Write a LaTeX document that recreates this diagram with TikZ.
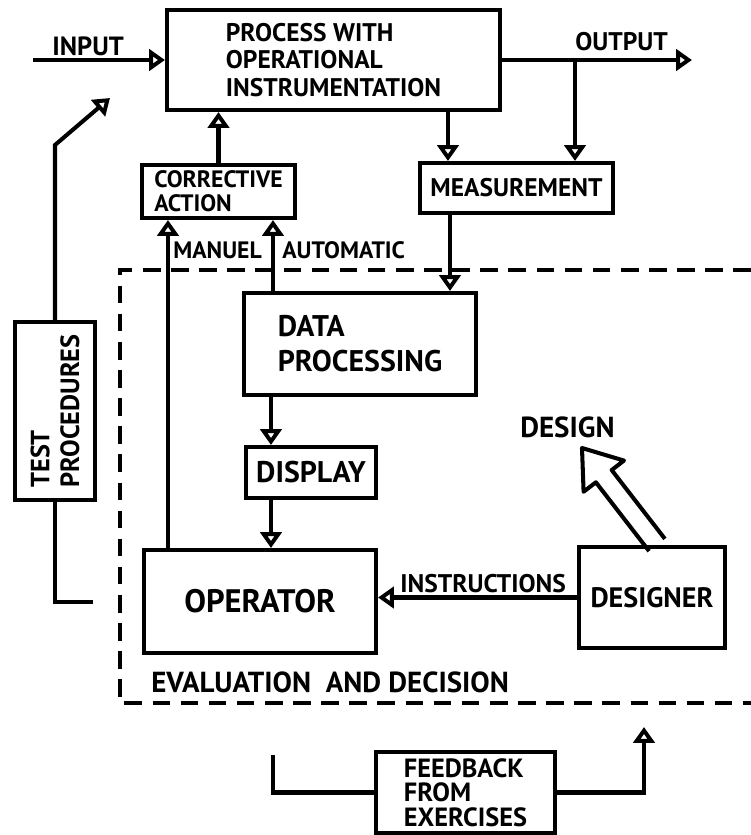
\documentclass[tikz,border=0pt]{standalone}
\usepackage{fontspec}
\setmainfont{PT Sans}
\usetikzlibrary{arrows.meta, positioning, calc}

\tikzset{
    % Lettering and boxes
    lettering/.style={font=\fontsize{14.5}{15.5}\selectfont\bfseries},
    bigletter/.style={font=\fontsize{17}{18}\selectfont\bfseries},
    smallletter/.style={font=\fontsize{13.5}{13.5}\selectfont\bfseries},
    blockbox/.style={
        rectangle,
        draw,
        line width=2.3pt,
        inner sep=0pt,
        text centered,
        lettering
    },
    tag/.style={inner sep=0pt, lettering},
    % Connectors
    flow/.style={
        -{Triangle[open,length=9pt,width=12pt]},
        line width=2.3pt
    },
    wire/.style={line width=2.3pt},
    zone/.style={line width=2.3pt, dash pattern=on 10pt off 6pt}
}

\begin{document}
\begin{tikzpicture}
    \useasboundingbox (0,0) rectangle (15.02,-16.7);

    % Plant and its instrumentation
    \node[blockbox,minimum width=6.66cm,minimum height=2cm,align=left] (proc) at (6.67,-1.2) {PROCESS WITH\\OPERATIONAL\\INSTRUMENTATION};
    \node[blockbox,smallletter,minimum width=3.06cm,minimum height=1.06cm,align=left] (corr) at (4.37,-3.83) {CORRECTIVE\\ACTION};
    \node[blockbox,minimum width=3.86cm,minimum height=1cm] (meas) at (10.33,-3.76) {MEASUREMENT};

    % Evaluation and decision
    \node[blockbox,minimum width=4.64cm,minimum height=2.04cm,align=left,font=\fontsize{17}{20}\selectfont\bfseries] (dp) at (7.2,-6.88) {DATA\\PROCESSING};
    \node[blockbox,bigletter,minimum width=2.6cm,minimum height=1.02cm] (disp) at (6.22,-9.45) {DISPLAY};
    \node[blockbox,font=\fontsize{18.5}{19}\selectfont\bfseries,minimum width=4.64cm,minimum height=2.06cm] (oper) at (5.2,-12.03) {OPERATOR};
    \node[blockbox,font=\fontsize{16}{17}\selectfont\bfseries,minimum width=2.92cm,minimum height=2.02cm] (desgr) at (13.04,-11.95) {DESIGNER};

    % rotated box, so east is its top and west its bottom
    \node[blockbox,rotate=90,minimum width=3.56cm,minimum height=1.6cm,align=left,font=\fontsize{15}{17}\selectfont\bfseries] (tp) at (1.1,-8.22) {TEST\\PROCEDURES};
    \node[blockbox,minimum width=3.58cm,minimum height=1.62cm,align=left,font=\fontsize{15}{14}\selectfont\bfseries] (fb) at (9.31,-15.85) {FEEDBACK\\FROM\\EXERCISES};

    % Labels
    \node[tag,font=\fontsize{15}{16}\selectfont\bfseries,anchor=base west] (inlbl) at (1.04,-1.1) {INPUT};
    \node[tag,anchor=base west] (outlbl) at (11.5,-1.0) {OUTPUT};
    \node[tag,smallletter,anchor=base west] (manlbl) at (3.46,-5.16) {MANUEL};
    \node[tag,smallletter,anchor=base west] (autolbl) at (5.64,-5.16) {AUTOMATIC};
    \node[tag,anchor=base west] (instlbl) at (8.0,-11.84) {INSTRUCTIONS};
    \node[tag,font=\fontsize{16.5}{17}\selectfont\bfseries,anchor=base west] (dsglbl) at (10.4,-8.74) {DESIGN};
    \node[tag,font=\fontsize{16.5}{17}\selectfont\bfseries,anchor=base west] (evallbl) at (3.02,-13.84) {EVALUATION\ \ AND DECISION};

    % Dashed zone, open to the right
    \draw[zone] (15.02,-5.4) -- (2.4,-5.4) -- (2.4,-14.06) -- (15.02,-14.06);

    % Free ends and branch points
    \coordinate (in) at (0.66,-1.2);
    \coordinate (out) at (13.84,-1.2);
    \coordinate (tap) at (11.5,-1.2);
    \coordinate (mtap) at ([xshift=0.6cm]meas.north west);
    \coordinate (dtap) at ([xshift=0.64cm]meas.south west);
    \coordinate (auto) at ([xshift=0.62cm]dp.north west);
    \coordinate (man) at ([xshift=0.52cm]oper.north west);
    \coordinate (dsp) at ([xshift=0.58cm]dp.south west);
    \coordinate (tpk) at (1.1,-2.9);
    \coordinate (tptip) at (2.2,-1.96);
    \coordinate (tpend) at (1.86,-12.04);
    \coordinate (fbl) at (5.46,-15.1);
    \coordinate (fbr) at (12.88,-14.54);

    % Arrows
    \draw[flow] (in) -- (proc.west);
    \draw[flow] (proc.east) -- (out);
    \draw[flow] (tap) -- (tap |- meas.north);
    \draw[flow] (mtap |- proc.south) -- (mtap);
    \draw[flow] (corr.north) -- (corr.north |- proc.south);
    \draw[flow] (dtap) -- (dtap |- dp.north);
    \draw[flow] (auto) -- (auto |- corr.south);
    \draw[flow] (man) -- (man |- corr.south);
    \draw[flow] (dsp) -- (dsp |- disp.north);
    \draw[flow] (dsp |- disp.south) -- (dsp |- oper.north);
    \draw[flow] (desgr.west) -- (desgr.west -| oper.east);
    \draw[flow] (tp.east) -- (tpk) -- (tptip);
    \draw[wire] (tp.west) |- (tpend);
    \draw[wire] (fb.west) -| (fbl);
    \draw[flow] (fb.east) -| (fbr);

    % Hollow arrow from the designer up to the design
    \coordinate (dtail) at ([xshift=0.1cm]desgr.north);
    \coordinate (dtip) at (11.64,-8.96);
    \coordinate (dneck) at ($(dtail)!1.74cm!(dtip)$);
    \draw[wire,line join=round]
        ($(dtail)!0.2cm!90:(dtip)$) -- ($(dneck)!0.2cm!90:(dtip)$)
        -- ($(dneck)!0.51cm!90:(dtip)$) -- (dtip)
        -- ($(dneck)!0.51cm!-90:(dtip)$) -- ($(dneck)!0.2cm!-90:(dtip)$)
        -- ($(dtail)!0.2cm!-90:(dtip)$);
\end{tikzpicture}
\end{document}
